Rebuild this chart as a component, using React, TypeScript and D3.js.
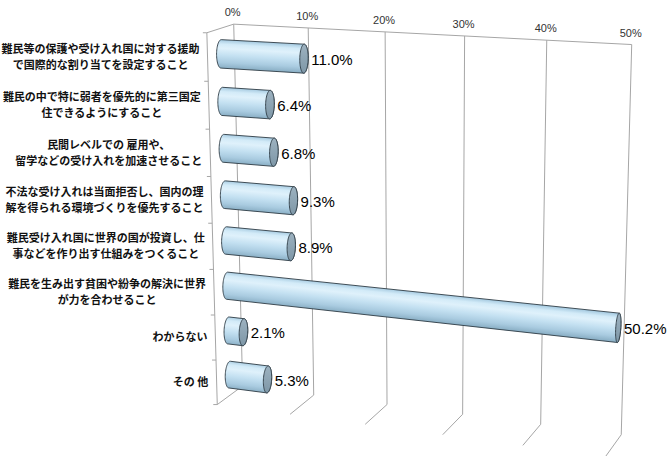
import React from 'react';
import * as d3 from 'd3';

// ---------- data ----------
const categoryLines: string[][] = [
  ['難民等の保護や受け入れ国に対する援助', 'で国際的な割り当てを設定すること'],
  ['難民の中で特に弱者を優先的に第三国定', '住できるようにすること'],
  ['民間レベルでの 雇用や、', '留学などの受け入れを加速させること'],
  ['不法な受け入れは当面拒否し、国内の理', '解を得られる環境づくりを優先すること'],
  ['難民受け入れ国に世界の国が投資し、仕', '事などを作り出す仕組みをつくること'],
  ['難民を生み出す貧困や紛争の解決に世界', 'が力を合わせること'],
  ['わからない'],
  ['その 他'],
];
const values: number[] = [11.0, 6.4, 6.8, 9.3, 8.9, 50.2, 2.1, 5.3];
const tickValues: number[] = [0, 10, 20, 30, 40, 50];
const tickLabels: string[] = ['0%', '10%', '20%', '30%', '40%', '50%'];

// ---------- layout ----------
const W = 670;
const H = 456;
const X_MAX = 50;

// perspective frame anchors: [value, y(0 top..1 bottom), z(0 front..1 back), screenX, screenY]
const frameAnchors: number[][] = [
  [0, 0, 1, 234, 24], [10, 0, 1, 308, 28], [20, 0, 1, 385, 32],
  [30, 0, 1, 464, 35.5], [40, 0, 1, 547, 40], [50, 0, 1, 632, 45],
  [0, 1, 1, 242.5, 387.5], [10, 1, 1, 314.5, 395], [20, 1, 1, 387, 404],
  [30, 1, 1, 462, 413], [40, 1, 1, 541, 424.5], [50, 1, 1, 621, 435],
  [0, 0, 0, 207, 33], [0, 1, 0, 216.5, 404], [10, 1, 0, 290, 414],
  [20, 1, 0, 366, 424], [30, 1, 0, 443, 435], [40, 1, 0, 522.5, 446],
];

const xScale = d3.scaleLinear().domain([0, X_MAX]).range([0, 1]);
const yBand = d3.scaleBand<number>().domain(d3.range(values.length)).range([0, 1]).paddingInner(0).paddingOuter(0);

function solveLinear(A: number[][], b: number[]): number[] {
  const n = b.length;
  const M = A.map((r, i) => [...r, b[i]]);
  for (let c = 0; c < n; c++) {
    let piv = c;
    for (let r = c + 1; r < n; r++) if (Math.abs(M[r][c]) > Math.abs(M[piv][c])) piv = r;
    [M[c], M[piv]] = [M[piv], M[c]];
    for (let r = 0; r < n; r++) {
      if (r === c) continue;
      const f = M[r][c] / M[c][c];
      for (let k = c; k <= n; k++) M[r][k] -= f * M[c][k];
    }
  }
  return M.map((r, i) => r[n] / r[i]);
}

function fitCamera(): number[] {
  const rows: number[][] = [];
  const rhs: number[] = [];
  for (const [v, Y, Z, u0, v0] of frameAnchors) {
    const X = xScale(v);
    const u = u0 / 100, w = v0 / 100;
    rows.push([X, Y, Z, 1, 0, 0, 0, 0, -u * X, -u * Y, -u * Z]); rhs.push(u);
    rows.push([0, 0, 0, 0, X, Y, Z, 1, -w * X, -w * Y, -w * Z]); rhs.push(w);
  }
  const n = 11;
  const N: number[][] = d3.range(n).map(() => new Array(n).fill(0));
  const c: number[] = new Array(n).fill(0);
  rows.forEach((r, k) => {
    for (let i = 0; i < n; i++) {
      c[i] += r[i] * rhs[k];
      for (let j = 0; j < n; j++) N[i][j] += r[i] * r[j];
    }
  });
  return solveLinear(N, c);
}

const P = fitCamera();
function project(v: number, y: number, z: number): [number, number] {
  const X = xScale(v);
  const w = P[8] * X + P[9] * y + P[10] * z + 1;
  return [
    ((P[0] * X + P[1] * y + P[2] * z + P[3]) / w) * 100,
    ((P[4] * X + P[5] * y + P[6] * z + P[7]) / w) * 100,
  ];
}

const BAR_Z = 0.5;
const BAR_SHIFT = 0.004;
const R_Y = 0.037;
const R_Z = 0.17;
const CAP_N = 64;
const GRID = '#a6a6a6';
const LABEL_FS = 11;
const LINE_H = 16;

function textWidth(s: string, fs: number): number {
  let w = 0;
  for (const ch of s) w += ch === ' ' ? fs * 0.3 : fs;
  return w;
}

export default function App() {
  const seg = (a: [number, number], b: [number, number], key: string) => (
    <line key={key} x1={a[0]} y1={a[1]} x2={b[0]} y2={b[1]} stroke={GRID} strokeWidth={1} />
  );

  const grid: React.ReactNode[] = [];
  tickValues.forEach((t) => {
    grid.push(seg(project(t, 0, 1), project(t, 1, 1), `bv${t}`));
    grid.push(seg(project(t, 1, 1), project(t, 1, 0), `fd${t}`));
  });
  grid.push(seg(project(0, 0, 1), project(X_MAX, 0, 1), 'top'));
  grid.push(seg(project(0, 0, 1), project(0, 0, 0), 'lwtop'));
  grid.push(seg(project(0, 0, 0), project(0, 1, 0), 'lwfront'));
  d3.range(values.length + 1).forEach((k) => {
    const p = project(0, k / values.length, 0);
    grid.push(seg(p, [p[0] - 4, p[1]], `ct${k}`));
  });

  const line = d3.line();

  const bars = values.map((v, i) => {
    const yc = (yBand(i) as number) + yBand.bandwidth() / 2 + BAR_SHIFT;
    const cap = (x: number) =>
      d3.range(CAP_N).map((k) => {
        const t = (2 * Math.PI * k) / CAP_N;
        return project(x, yc + R_Y * Math.cos(t), BAR_Z + R_Z * Math.sin(t));
      });
    const left = cap(0);
    const right = cap(v);
    const hull = d3.polygonHull([...left, ...right]) as [number, number][];
    const L = project(0, yc, BAR_Z);
    const R = project(v, yc, BAR_Z);
    const len = Math.hypot(R[0] - L[0], R[1] - L[1]) || 1;
    const d = [(R[0] - L[0]) / len, (R[1] - L[1]) / len];
    const n = [-d[1], d[0]];
    const M = [(L[0] + R[0]) / 2, (L[1] + R[1]) / 2];
    const h = 14;
    const capRight = d3.max(right, (p) => p[0]) as number;
    return { i, v, hull, right, M, n, h, R, capRight };
  });

  return (
    <svg width={W} height={H} style={{ position: 'absolute', left: 0, top: 0, background: '#fff' }}
      fontFamily="'Liberation Sans', Arial, sans-serif">
      <defs>
        {bars.map((b) => (
          <linearGradient key={b.i} id={`barGrad${b.i}`} gradientUnits="userSpaceOnUse"
            x1={b.M[0] - b.n[0] * b.h} y1={b.M[1] - b.n[1] * b.h}
            x2={b.M[0] + b.n[0] * b.h} y2={b.M[1] + b.n[1] * b.h}>
            <stop offset="0" stopColor="#a7cbe1" />
            <stop offset="0.15" stopColor="#d3ebf8" />
            <stop offset="0.3" stopColor="#dff1fb" />
            <stop offset="0.55" stopColor="#c3e0f1" />
            <stop offset="0.8" stopColor="#a9cbe0" />
            <stop offset="1" stopColor="#8aafc5" />
          </linearGradient>
        ))}
        <linearGradient id="capGrad" x1="0" y1="0" x2="0" y2="1">
          <stop offset="0" stopColor="#9db2c0" />
          <stop offset="1" stopColor="#7e97a7" />
        </linearGradient>
      </defs>
      <rect x={0} y={0} width={W} height={H} fill="#fff" />
      <g>{grid}</g>
      {tickValues.map((t, k) => {
        const p = project(t, 0, 1);
        return (
          <text key={`tl${t}`} x={p[0] - 1} y={p[1] - 8} textAnchor="middle" fontSize={11} fill="#333">
            {tickLabels[k]}
          </text>
        );
      })}
      {bars.map((b) => (
        <g key={`bar${b.i}`}>
          <path d={(line(b.hull) as string) + 'Z'} fill={`url(#barGrad${b.i})`} stroke="#2e3b44" strokeWidth={0.9} />
          <path d={(line(b.right) as string) + 'Z'} fill="url(#capGrad)" stroke="#2e3b44" strokeWidth={0.9} />
          <text x={b.capRight + 3} y={b.R[1] + 1} dy="0.35em" fontSize={15} fill="#000">
            {b.v.toFixed(1)}%
          </text>
        </g>
      ))}
      {categoryLines.map((lines, i) => {
        const yc = (yBand(i) as number) + yBand.bandwidth() / 2;
        const p = project(0, yc, 0);
        const maxW = d3.max(lines, (s) => textWidth(s, LABEL_FS)) as number;
        const cx = p[0] - 8 - maxW / 2;
        const y0 = p[1] - ((lines.length - 1) * LINE_H) / 2;
        return (
          <text key={`cat${i}`} textAnchor="middle" fontSize={LABEL_FS} fontWeight="bold"
            fontFamily="'Noto Sans CJK JP', sans-serif" fill="#111">
            {lines.map((s, k) => (
              <tspan key={k} x={cx} y={y0 + k * LINE_H} dy="0.35em">{s}</tspan>
            ))}
          </text>
        );
      })}
    </svg>
  );
}
